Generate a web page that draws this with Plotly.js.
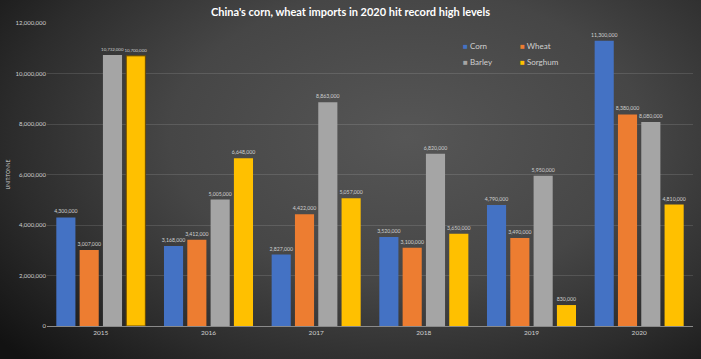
<!DOCTYPE html>
<html><head><meta charset="utf-8">
<script src="https://cdn.plot.ly/plotly-3.0.1.min.js"></script>
<style>
html,body{margin:0;padding:0;}
body{width:701px;height:359px;overflow:hidden;
background: radial-gradient(ellipse 75% 90% at 58% 38%, #565656 0%, #464646 45%, #2c2c2c 75%, #121212 100%);}
#chart{width:701px;height:359px;}
</style></head>
<body><div id="chart"></div>
<script>
const years = ['2015','2016','2017','2018','2019','2020'];
const corn = [4300000, 3168000, 2827000, 3520000, 4790000, 11300000];
const wheat = [3007000, 3412000, 4422000, 3100000, 3490000, 8380000];
const barley = [10732000, 5005000, 8863000, 6820000, 5950000, 8080000];
const sorghum = [10700000, 6648000, 5057000, 3650000, 830000, 4810000];
const names = ['Corn','Wheat','Barley','Sorghum'];
const colors = ['#4472C4','#ED7D31','#A5A5A5','#FFC000'];
const series = [corn, wheat, barley, sorghum];
const FONT = 'Lato, "Open Sans", sans-serif';

const traces = series.map((vals, i) => ({
  type: 'bar', name: names[i], x: years, y: vals,
  marker: {color: colors[i],
    line: i === 3 ? {width: vals.map((v, j) => j === 0 ? 1 : 0), color: '#6a4a00'} : {width: 0}},
  text: vals.map(v => v.toLocaleString('en-US')),
  textposition: 'outside', cliponaxis: false, constraintext: 'none',
  // long 8-digit labels on adjacent bars get a slightly smaller size so they do not collide
  textfont: {size: vals.map(v => v >= 10000000 && (i === 2 || i === 3) ? 4.4 : 5.2),
    color: '#d0d0d0', family: FONT},
  showlegend: false, hoverinfo: 'none'
}));

// legend drawn as text entries (2 x 2)
const legX = [0.641, 0.729, 0.641, 0.729];
const legY = [0.925, 0.925, 0.870, 0.870];
const annotations = names.map((n, i) => ({
  xref: 'paper', yref: 'paper', x: legX[i], y: legY[i],
  xanchor: 'left', yanchor: 'middle', showarrow: false,
  text: '<span style="color:' + colors[i] + '">■</span> ' + n,
  font: {size: 8, color: '#d0d0d0', family: FONT}
}));

const layout = {
  width: 701, height: 359,
  paper_bgcolor: 'rgba(0,0,0,0)', plot_bgcolor: 'rgba(0,0,0,0)',
  margin: {l: 47, r: 8, t: 23, b: 33},
  barmode: 'group', bargap: 0.134, bargroupgap: 0.18,
  showlegend: false,
  title: {text: "China's corn, wheat imports in 2020 hit record high levels",
    font: {family: FONT, size: 11, color: '#ffffff', weight: 'bold'},
    x: 0.5, xanchor: 'center', y: 0.965, yanchor: 'middle'},
  font: {family: FONT, color: '#d0d0d0'},
  xaxis: {type: 'category', tickfont: {size: 6.5, color: '#d0d0d0'},
    showgrid: false, showline: true, linecolor: '#8a8a8a', linewidth: 1,
    ticks: '', zeroline: false},
  yaxis: {range: [0, 12000000], dtick: 2000000, tickformat: ',d',
    tickfont: {size: 6, color: '#d0d0d0'}, showgrid: true,
    gridcolor: 'rgba(255,255,255,0.12)', gridwidth: 1, zeroline: false,
    showline: false, ticks: '', ticklen: 0,
    title: {text: 'UNIT:TONNE', font: {size: 5, color: '#d0d0d0'}, standoff: 4}},
  annotations: annotations
};
Plotly.newPlot('chart', traces, layout, {displayModeBar: false, staticPlot: true});
</script></body></html>
